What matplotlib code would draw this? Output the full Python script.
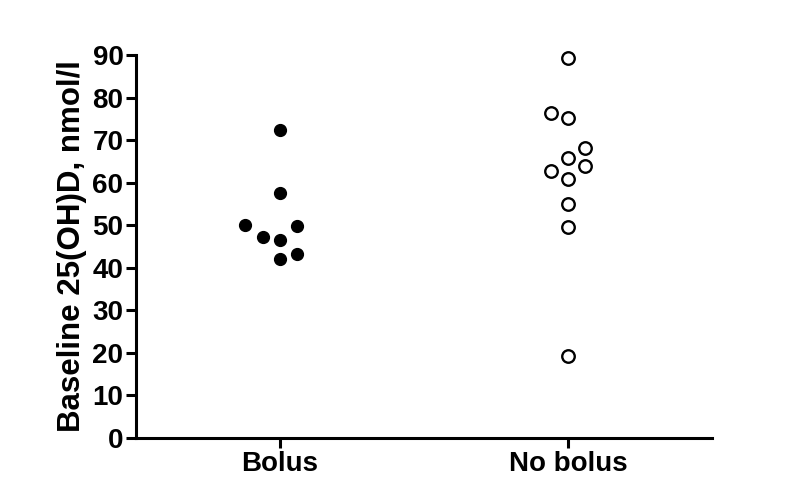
import matplotlib
matplotlib.use("Agg")
import matplotlib.pyplot as plt

# data
groups = ["Bolus", "No bolus"]
bolus_offset = [0.0, 0.0, -0.12, 0.06, -0.06, 0.0, 0.06, 0.0]
bolus_vals = [72.4, 57.6, 50.0, 49.9, 47.3, 46.5, 43.2, 42.1]
nobolus_offset = [0.0, -0.06, 0.0, 0.06, 0.0, 0.06, -0.06, 0.0, 0.0, 0.0, 0.0]
nobolus_vals = [89.2, 76.3, 75.1, 68.2, 65.7, 64.0, 62.8, 60.8, 55.1, 49.6, 19.3]
yticks = list(range(0, 91, 10))

plt.rcParams["font.family"] = ["Liberation Sans", "DejaVu Sans"]
plt.rcParams["font.weight"] = "bold"

fig = plt.figure(figsize=(7.87, 5.03), dpi=100)
ax = fig.add_axes([0.1728, 0.1292, 0.7319, 0.7615])

ax.plot([0 + d for d in bolus_offset], bolus_vals, "o", color="black",
        markersize=8.5, linestyle="none", clip_on=False)
ax.plot([1 + d for d in nobolus_offset], nobolus_vals, "o", markerfacecolor="white",
        markeredgecolor="black", markeredgewidth=1.7, markersize=9,
        linestyle="none", clip_on=False)

ax.set_xlim(-0.5, 1.5)
ax.set_ylim(0, 90)
ax.set_yticks(yticks)
ax.set_xticks([0, 1])
ax.set_xticklabels(groups)
ax.set_ylabel("Baseline 25(OH)D, nmol/l", fontsize=22.5, fontweight="bold", labelpad=4)

for s in ["top", "right"]:
    ax.spines[s].set_visible(False)
for s in ["left", "bottom"]:
    ax.spines[s].set_linewidth(2.2)
ax.tick_params(axis="both", width=2.2, length=7, labelsize=20, pad=2)

fig.savefig("out.png", dpi=100)
